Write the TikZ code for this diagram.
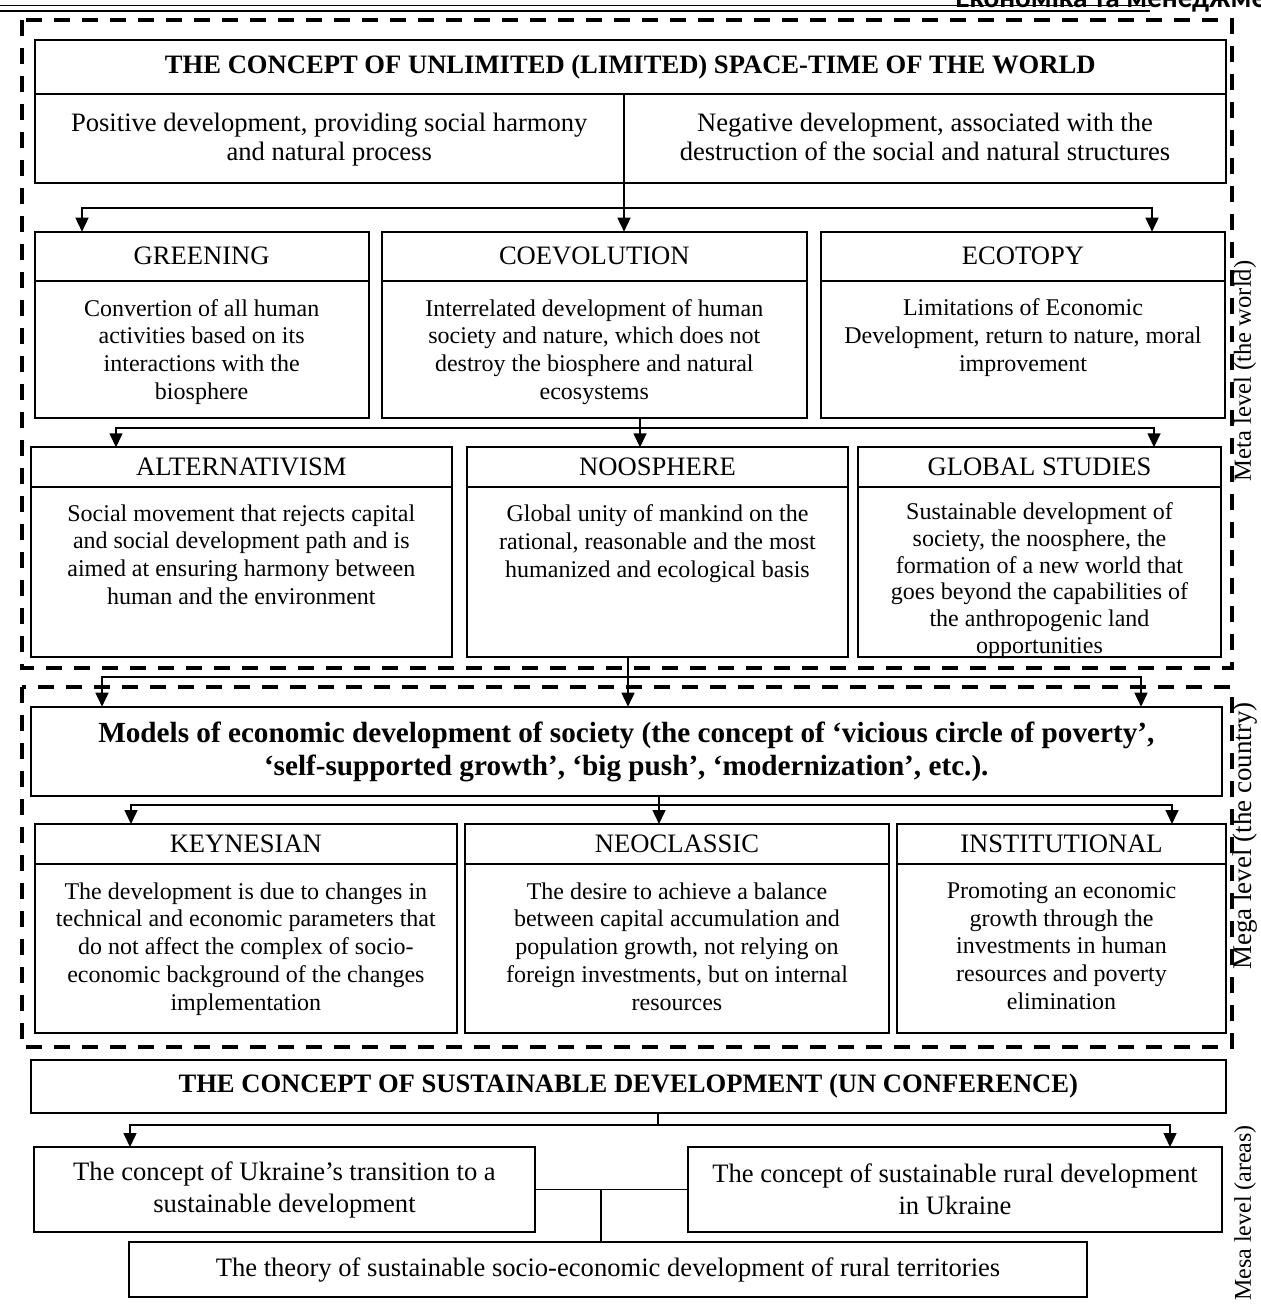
\documentclass[tikz,border=0pt]{standalone}
\usepackage{fontspec}
\setmainfont{Liberation Serif}
\newfontfamily\hdrfont{Carlito}
\usetikzlibrary{positioning,arrows.meta,calc}
\newcommand\txtfont{\fontsize{13.3}{13.9}\selectfont}
\newcommand\smallfont{\fontsize{12}{13.9}\selectfont}
\newcommand\bigfont{\fontsize{14.6}{16.3}\selectfont\bfseries}

\begin{document}
\begin{tikzpicture}[x=0.5pt,y=-0.5pt,
	cell/.style={draw=BLACK, line width=1pt, inner sep=0pt, outer sep=0pt, align=center, font=\txtfont},
	note/.style={inner sep=0pt, align=center, font=\smallfont, anchor=north},
	arr/.style={BLACK, line width=0.75pt, -{Triangle[length=7pt,width=6.5pt]}},
	link/.style={BLACK, line width=0.75pt},
	zone/.style={BLACK, line width=1.7pt, dash pattern=on 8pt off 6pt},
	side/.style={rotate=90, inner sep=0pt}]

\definecolor{BLACK}{RGB}{0,0,0}
\useasboundingbox (0,0) rectangle (1261,1305);

% page header
\draw[BLACK, line width=0.5pt] (0,6) -- (1150,6);
\draw[BLACK, line width=1pt] (0,11) -- (1150,11);
\node[anchor=base west, inner sep=0pt, font=\fontsize{14.6}{16}\selectfont\hdrfont\bfseries] (hdr)
	at (955,8) {Економіка та менеджмент};

% level frames
\draw[zone] (22,20) rectangle (1232,668);
\draw[zone] (22,687) rectangle (1232,1047);

\node[side, font=\fontsize{12.3}{14}\selectfont] (meta) at (1245,371) {Meta level (the world)};
\node[side, font=\fontsize{13.5}{14}\selectfont] (mega) at (1245,836) {Mega level (the country)};
\node[side, font=\fontsize{12}{14}\selectfont] (mesa) at (1245,1213) {Mesa level (areas)};

% world concept
\node[cell, font=\txtfont\bfseries, minimum width=595.75pt, minimum height=27pt] (world)
	at (630.25,67) {THE CONCEPT OF UNLIMITED (LIMITED) SPACE-TIME OF THE WORLD};
\node[cell, minimum width=294.75pt, minimum height=44.5pt, anchor=north west] (pos)
	at (world.south west) {};
\node[note, font=\fontsize{13.3}{14.3}\selectfont] (post) at ([yshift=-9.5pt]pos.north)
	{Positive development, providing social harmony\\and natural process};
\node[cell, minimum width=301pt, minimum height=44.5pt, anchor=north east] (neg)
	at (world.south east) {};
\node[note, font=\fontsize{13.3}{14.3}\selectfont] (negt) at ([yshift=-9.5pt]neg.north)
	{Negative development, associated with the\\destruction of the social and natural structures};

% first row
\node[cell, minimum width=166.95pt, minimum height=24.5pt] (green) at (201.65,256.2) {GREENING};
\node[cell, minimum width=166.95pt, minimum height=68.5pt, below=0pt of green] (greenb) {};
\node[note] (greent) at ([yshift=-9pt]greenb.north)
	{Convertion of all human\\activities based on its\\interactions with the\\biosphere};

\node[cell, minimum width=212.7pt, minimum height=24.5pt] (coev) at (594.3,256.2) {COEVOLUTION};
\node[cell, minimum width=212.7pt, minimum height=68.5pt, below=0pt of coev] (coevb) {};
\node[note] (coevt) at ([yshift=-9pt]coevb.north)
	{Interrelated development of human\\society and nature, which does not\\destroy the biosphere and natural\\ecosystems};

\node[cell, minimum width=202pt, minimum height=24.5pt] (ecot) at (1023,256.2) {ECOTOPY};
\node[cell, minimum width=202pt, minimum height=68.5pt, below=0pt of ecot] (ecotb) {};
\node[note] (ecott) at ([yshift=-9pt]ecotb.north)
	{Limitations of Economic\\Development, return to nature, moral\\improvement};

\coordinate (w1) at ($(pos.south east)+(0,25)$);
\draw[arr] (pos.south east) -- (pos.south east |- coev.north);
\draw[arr] (w1) -| ([xshift=23.65pt]green.north west);
\draw[arr] (w1) -| ([xshift=-36.5pt]ecot.north east);

% second row
\node[cell, minimum width=210.7pt, minimum height=19.7pt] (alt) at (241.3,467) {ALTERNATIVISM};
\node[cell, minimum width=210.7pt, minimum height=85pt, below=0pt of alt] (altb) {};
\node[note] (altt) at ([yshift=-8.7pt]altb.north)
	{Social movement that rejects capital\\and social development path and is\\aimed at ensuring harmony between\\human and the environment};

\node[cell, minimum width=190.5pt, minimum height=19.7pt] (noos) at (657.5,467) {NOOSPHERE};
\node[cell, minimum width=190.5pt, minimum height=85pt, below=0pt of noos] (noosb) {};
\node[note] (noost) at ([yshift=-8.7pt]noosb.north)
	{Global unity of mankind on the\\rational, reasonable and the most\\humanized and ecological basis};

\node[cell, minimum width=181.5pt, minimum height=19.7pt] (glob) at (1039.5,467) {GLOBAL STUDIES};
\node[cell, minimum width=181.5pt, minimum height=85pt, below=0pt of glob] (globb) {};
\node[note, font=\fontsize{12}{13.4}\selectfont] (globt) at ([yshift=-7.7pt]globb.north)
	{Sustainable development of\\society, the noosphere, the\\formation of a new world that\\goes beyond the capabilities of\\the anthropogenic land\\opportunities};

\coordinate (c2) at ([xshift=22.85pt]coevb.south);
\coordinate (w2) at ($(c2)+(0,10.3)$);
\draw[link] (c2) -- (w2);
\draw[arr] (w2) -- (w2 |- noos.north);
\draw[arr] (w2) -| ([xshift=42.7pt]alt.north west);
\draw[arr] (w2) -| ([xshift=-33.5pt]glob.north east);

% models of the country
\node[cell, minimum width=595.7pt, minimum height=44.65pt] (models) at (626.3,751.35) {};
\node[note, font=\bigfont] (modelst) at ([yshift=-7.5pt]models.north)
	{Models of economic development of society (the concept of ‘vicious circle of poverty’,\\‘self-supported growth’, ‘big push’, ‘modernization’, etc.).};

\coordinate (c3) at ([xshift=80.5pt]noosb.south west);
\coordinate (w3) at ($(c3)+(0,20.3)$);
\draw[arr] (c3) -- (c3 |- models.north);
\draw[arr] (w3) -| ([xshift=35.7pt]models.north west);
\draw[arr] (w3) -| ([xshift=-40.5pt]models.north east);

% third row
\node[cell, minimum width=211.15pt, minimum height=20pt] (keyn) at (245.85,844) {KEYNESIAN};
\node[cell, minimum width=211.15pt, minimum height=84.5pt, below=0pt of keyn] (keynb) {};
\node[note] (keynt) at ([yshift=-9pt]keynb.north)
	{The development is due to changes in\\technical and economic parameters that\\do not affect the complex of socio-\\economic background of the changes\\implementation};

\node[cell, minimum width=212pt, minimum height=20pt] (neo) at (677,844) {NEOCLASSIC};
\node[cell, minimum width=212pt, minimum height=84.5pt, below=0pt of neo] (neob) {};
\node[note] (neot) at ([yshift=-9pt]neob.north)
	{The desire to achieve a balance\\between capital accumulation and\\population growth, not relying on\\foreign investments, but on internal\\resources};

\node[cell, minimum width=164.5pt, minimum height=20pt] (inst) at (1061.5,844) {INSTITUTIONAL};
\node[cell, minimum width=164.5pt, minimum height=84.5pt, below=0pt of inst] (instb) {};
\node[note] (instt) at ([yshift=-9pt]instb.north)
	{Promoting an economic\\growth through the\\investments in human\\resources and poverty\\elimination};

\coordinate (c4) at ([xshift=16.35pt]models.south);
\coordinate (w4) at ($(c4)+(0,9)$);
\draw[arr] (c4) -- (c4 |- neo.north);
\draw[arr] (w4) -| ([xshift=48.15pt]keyn.north west);
\draw[arr] (w4) -| ([xshift=-27pt]inst.north east);

% sustainable development
\node[cell, font=\txtfont\bfseries, minimum width=597.7pt, minimum height=26.5pt] (sust) at (628.3,1086.5)
	{THE CONCEPT OF SUSTAINABLE DEVELOPMENT (UN CONFERENCE)};
\node[cell, font=\fontsize{13.3}{16}\selectfont, minimum width=250.5pt, minimum height=42.5pt] (ukr) at (284.5,1189.5)
	{The concept of Ukraine’s transition to a\\sustainable development};
\node[cell, font=\fontsize{13.3}{16}\selectfont, minimum width=267pt, minimum height=42.5pt] (rural) at (955,1189.5)
	{The concept of sustainable rural development\\in Ukraine};
\node[cell, minimum width=479pt, minimum height=27.5pt] (theory) at (608,1269.5)
	{The theory of sustainable socio-economic development of rural territories};

\coordinate (c5) at ([xshift=14.85pt]sust.south);
\coordinate (w5) at ($(c5)+(0,12)$);
\draw[link] (c5) -- (w5);
\draw[arr] (w5) -| ([xshift=48pt]ukr.north west);
\draw[arr] (w5) -| ([xshift=-26pt]rural.north east);
\draw[link] (ukr.east) -- (rural.west);
\coordinate (c6) at ($(ukr.east)!0.43!(rural.west)$);
\draw[link] (c6) -- (c6 |- theory.north);
\end{tikzpicture}
\end{document}
